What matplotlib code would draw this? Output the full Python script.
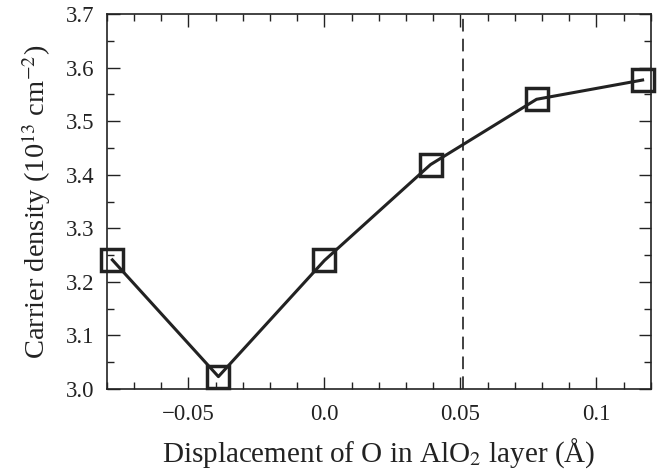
import numpy as np
import matplotlib
matplotlib.use("Agg")
import matplotlib.pyplot as plt
from matplotlib.ticker import MultipleLocator, FixedLocator

plt.rcParams['font.family'] = ['Liberation Serif', 'DejaVu Serif']
plt.rcParams['mathtext.fontset'] = 'stix'

# data
displacement = [-0.078, -0.039, 0.0, 0.039, 0.078, 0.117]
density = [3.241, 3.023, 3.240, 3.419, 3.541, 3.577]
dash_x = 0.051

xticks = [-0.05, 0.0, 0.05, 0.1]
xtick_labels = ['\u22120.05', '0.0', '0.05', '0.1']
yticks = [3.0, 3.1, 3.2, 3.3, 3.4, 3.5, 3.6, 3.7]

fig = plt.figure(figsize=(6.6, 4.72), dpi=100)
ax = fig.add_axes([0.162, 0.176, 0.824, 0.794])

ax.plot(displacement, density, color='#222222', lw=2.2,
        marker='s', ms=15.5, mfc='none', mec='#222222', mew=2.5,
        zorder=3, clip_on=False)
ax.axvline(dash_x, color='#333333', lw=1.3, ls=(0, (7, 4)))

ax.set_xlim(-0.08, 0.12)
ax.set_ylim(3.0, 3.7)
ax.xaxis.set_major_locator(FixedLocator(xticks))
ax.set_xticklabels(xtick_labels)
ax.xaxis.set_minor_locator(MultipleLocator(0.01))
ax.set_yticks(yticks)
ax.set_yticklabels(['%.1f' % v for v in yticks])
ax.yaxis.set_minor_locator(MultipleLocator(0.05))

ax.tick_params(which='both', direction='in', top=True, right=True,
               labelsize=16.5, colors='#222222', width=1.0)
ax.tick_params(axis='x', which='major', length=9, pad=11)
ax.tick_params(axis='y', which='major', length=9, pad=9)
ax.tick_params(which='minor', length=5)
for s in ax.spines.values():
    s.set_linewidth(1.2)
    s.set_color('#222222')

ax.set_xlabel('Displacement of O in AlO$_2$ layer (\u00c5)', fontsize=21,
              color='#222222', labelpad=8)
ax.set_ylabel('Carrier density (10$^{13}$ cm$^{-2}$)', fontsize=20.5,
              color='#222222', labelpad=9)

fig.savefig('out.png', dpi=100)
